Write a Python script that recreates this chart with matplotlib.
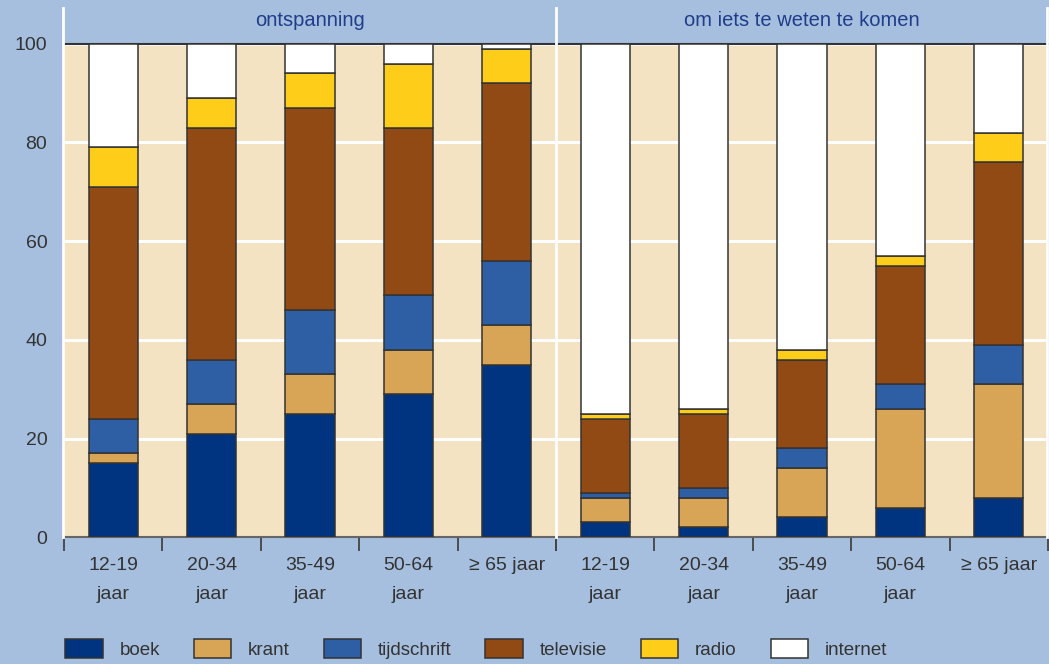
import matplotlib.pyplot as plt
from matplotlib.lines import Line2D
import numpy as np

# Data (percentages, stacked)
groepen = ['12-19\njaar', '20-34\njaar', '35-49\njaar', '50-64\njaar', '≥ 65 jaar']
media = ['boek', 'krant', 'tijdschrift', 'televisie', 'radio', 'internet']
kleuren = ['#003380', '#d8a455', '#2e5ea3', '#924a14', '#fecd1a', '#ffffff']

ontspanning = {
    'boek':        [15, 21, 25, 29, 35],
    'krant':       [2, 6, 8, 9, 8],
    'tijdschrift': [7, 9, 13, 11, 13],
    'televisie':   [47, 47, 41, 34, 36],
    'radio':       [8, 6, 7, 13, 7],
    'internet':    [21, 11, 6, 4, 1],
}
weten = {
    'boek':        [3, 2, 4, 6, 8],
    'krant':       [5, 6, 10, 20, 23],
    'tijdschrift': [1, 2, 4, 5, 8],
    'televisie':   [15, 15, 18, 24, 37],
    'radio':       [1, 1, 2, 2, 6],
    'internet':    [75, 74, 62, 43, 18],
}
titels = ['ontspanning', 'om iets te weten te komen']

blauw = '#a6bfdf'
beige = '#f3e3c3'
plt.rcParams['font.family'] = ['Liberation Sans', 'DejaVu Sans']

fig = plt.figure(figsize=(10.49, 6.64), dpi=100, facecolor=blauw)
ax1 = fig.add_axes([0.061, 0.191, 0.469, 0.743])
ax2 = fig.add_axes([0.530, 0.191, 0.469, 0.743])

x = np.arange(len(groepen))
for ax, data, titel in [(ax1, ontspanning, titels[0]), (ax2, weten, titels[1])]:
    ax.set_facecolor(beige)
    bottom = np.zeros(len(groepen))
    for m, c in zip(media, kleuren):
        vals = np.array(data[m])
        ax.bar(x, vals, 0.5, bottom=bottom, color=c, edgecolor='#333333',
               linewidth=1.1, zorder=3, label=m)
        bottom += vals
    ax.set_xlim(-0.5, len(groepen) - 0.5)
    ax.set_ylim(0, 100)
    ax.set_yticks([0, 20, 40, 60, 80, 100])
    ax.yaxis.grid(True, color='white', linewidth=2.2, zorder=0)
    ax.set_axisbelow(True)
    ax.set_xticks(np.arange(len(groepen) + 1) - 0.5)
    ax.set_xticklabels([])
    ax.set_xticks(x, minor=True)
    ax.set_xticklabels(groepen, minor=True, fontsize=14, color='#333333',
                       linespacing=1.95)
    ax.tick_params(axis='x', which='major', direction='out', length=10,
                   width=1.3, color='#444444')
    ax.tick_params(axis='x', which='minor', length=0, pad=14)
    ax.tick_params(axis='y', length=0, labelsize=14, labelcolor='#333333', pad=12)
    for s in ['left', 'right']:
        ax.spines[s].set_visible(False)
    ax.spines['top'].set_color('#333333')
    ax.spines['top'].set_linewidth(1.5)
    ax.spines['bottom'].set_color('#666666')
    ax.spines['bottom'].set_linewidth(1.5)
    ax.set_title(titel, fontsize=14.5, color='#1f3d8a', pad=13)

ax2.tick_params(axis='y', labelleft=False)

# white vertical separators
for xf in [0.060, 0.5305, 0.998]:
    fig.add_artist(Line2D([xf, xf], [0.191, 0.988], color='white',
                          linewidth=2, transform=fig.transFigure))

handles, labels = ax1.get_legend_handles_labels()
fig.legend(handles, labels, loc='lower left', bbox_to_anchor=(0.046, -0.018),
           ncol=6, frameon=False, fontsize=13.5, handlelength=2.0,
           handleheight=1.2, columnspacing=1.8, handletextpad=0.9,
           labelcolor='#333333')

fig.savefig('out.png', dpi=100, facecolor=blauw)
